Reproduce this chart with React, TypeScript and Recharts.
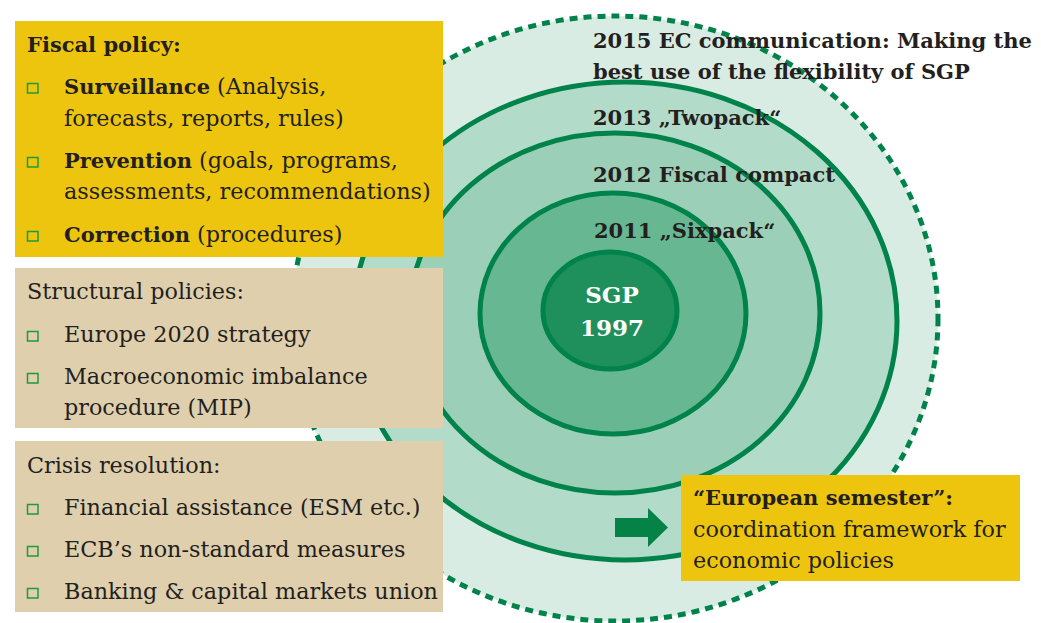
import { ScatterChart, Scatter, XAxis, YAxis } from "recharts";

const W = 1041;
const H = 623;

const YELLOW = "#edc50f";
const TAN = "#dfcfad";
const GREEN = "#00834a";
const INK = "#231f20";
const FONT = "'DejaVu Serif', serif";

// nested rings, outermost first (centre + radii in px units)
const RINGS = [
  { x: 615, y: 318.5, rx: 323, ry: 302.5, fill: "#d9ece3", dashed: true },
  { x: 625, y: 321, rx: 272, ry: 239, fill: "#b3dbc9", dashed: false },
  { x: 615, y: 313, rx: 205, ry: 180, fill: "#9bcfb7", dashed: false },
  { x: 613, y: 313.5, rx: 133, ry: 120.5, fill: "#68b793", dashed: false },
  { x: 610, y: 310.5, rx: 67, ry: 58.5, fill: "#1f8f5b", dashed: false },
];

// boxes: top-left corner + size
const BOXES = [
  { x: 15, y: 21, w: 428, h: 236, fill: YELLOW },
  { x: 15, y: 268, w: 428, h: 160, fill: TAN },
  { x: 15, y: 441, w: 428, h: 171, fill: TAN },
  { x: 681, y: 475, w: 339, h: 106, fill: YELLOW },
];

const ARROW = [{ x: 615, y: 527.5 }];

type Part = [string, boolean];

const LEFT_LINES: { x: number; y: number; bullet?: boolean; parts: Part[] }[] = [
  { x: 27, y: 52, parts: [["Fiscal policy:", true]] },
  { x: 64, y: 94, bullet: true, parts: [["Surveillance", true], [" (Analysis,", false]] },
  { x: 64, y: 126, parts: [["forecasts, reports, rules)", false]] },
  { x: 64, y: 168, bullet: true, parts: [["Prevention", true], [" (goals, programs,", false]] },
  { x: 64, y: 199, parts: [["assessments, recommendations)", false]] },
  { x: 64, y: 242, bullet: true, parts: [["Correction", true], [" (procedures)", false]] },
  { x: 27, y: 299, parts: [["Structural policies:", false]] },
  { x: 64, y: 342, bullet: true, parts: [["Europe 2020 strategy", false]] },
  { x: 64, y: 384, bullet: true, parts: [["Macroeconomic imbalance", false]] },
  { x: 64, y: 415, parts: [["procedure (MIP)", false]] },
  { x: 27, y: 473, parts: [["Crisis resolution:", false]] },
  { x: 64, y: 515, bullet: true, parts: [["Financial assistance (ESM etc.)", false]] },
  { x: 64, y: 557, bullet: true, parts: [["ECB\u2019s non-standard measures", false]] },
  { x: 64, y: 599, bullet: true, parts: [["Banking & capital markets union", false]] },
];

const RING_LABELS = [
  { x: 593, y: 48, text: "2015 EC communication: Making the" },
  { x: 593, y: 79, text: "best use of the flexibility of SGP" },
  { x: 593, y: 125, text: "2013 \u201ETwopack\u201C" },
  { x: 593, y: 182, text: "2012 Fiscal compact" },
  { x: 594, y: 238, text: "2011 \u201ESixpack\u201C" },
];

const CORE_LABELS = [
  { x: 612, y: 303, text: "SGP" },
  { x: 612, y: 336, text: "1997" },
];

const SEMESTER_LINES: { x: number; y: number; parts: Part[] }[] = [
  { x: 693, y: 505, parts: [["\u201CEuropean semester\u201D:", true]] },
  { x: 693, y: 537, parts: [["coordination framework for", false]] },
  { x: 693, y: 568, parts: [["economic policies", false]] },
];

const ringShape = (p: any) => {
  const d = p.payload;
  return (
    <ellipse
      cx={p.cx}
      cy={p.cy}
      rx={d.rx}
      ry={d.ry}
      fill={d.fill}
      stroke={GREEN}
      strokeWidth={5}
      strokeDasharray={d.dashed ? "8 6" : undefined}
    />
  );
};

const boxShape = (p: any) => {
  const d = p.payload;
  return <rect x={p.cx} y={p.cy} width={d.w} height={d.h} fill={d.fill} />;
};

const arrowShape = (p: any) => {
  const { cx, cy } = p;
  const pts = [
    [cx, cy - 9.5],
    [cx + 33, cy - 9.5],
    [cx + 33, cy - 19.5],
    [cx + 53, cy],
    [cx + 33, cy + 19.5],
    [cx + 33, cy + 9.5],
    [cx, cy + 9.5],
  ]
    .map((q) => q.join(","))
    .join(" ");
  return <polygon points={pts} fill="#058246" />;
};

const lineShape = (p: any) => {
  const d = p.payload;
  return (
    <g>
      {d.bullet && (
        <rect x={p.cx - 36.5} y={p.cy - 10.5} width={10.5} height={9.5} fill="none" stroke="#1f9a3e" strokeWidth={1.5} />
      )}
      <text x={p.cx} y={p.cy} fontFamily={FONT} fill={INK}>
        {d.parts.map((pt: Part, i: number) => (
          <tspan key={i} fontWeight={pt[1] ? "bold" : "normal"} fontSize={pt[1] ? 21 : 22.3}>
            {pt[0]}
          </tspan>
        ))}
      </text>
    </g>
  );
};

const ringLabelShape = (p: any) => (
  <text x={p.cx} y={p.cy} fontFamily={FONT} fontSize={21} fontWeight="bold" fill={INK}>
    {p.payload.text}
  </text>
);

const coreLabelShape = (p: any) => (
  <text x={p.cx} y={p.cy} fontFamily={FONT} fontSize={23} fontWeight="bold" fill="#ffffff" textAnchor="middle">
    {p.payload.text}
  </text>
);

export default function App() {
  return (
    <div style={{ position: "absolute", left: 0, top: 0, background: "#fff" }}>
      <ScatterChart width={W} height={H} margin={{ top: 0, right: 0, bottom: 0, left: 0 }}>
        <XAxis type="number" dataKey="x" domain={[0, W]} hide />
        <YAxis type="number" dataKey="y" domain={[0, H]} reversed hide />
        <Scatter data={RINGS} shape={ringShape} isAnimationActive={false} />
        <Scatter data={BOXES} shape={boxShape} isAnimationActive={false} />
        <Scatter data={ARROW} shape={arrowShape} isAnimationActive={false} />
        <Scatter data={LEFT_LINES} shape={lineShape} isAnimationActive={false} />
        <Scatter data={SEMESTER_LINES} shape={lineShape} isAnimationActive={false} />
        <Scatter data={RING_LABELS} shape={ringLabelShape} isAnimationActive={false} />
        <Scatter data={CORE_LABELS} shape={coreLabelShape} isAnimationActive={false} />
      </ScatterChart>
    </div>
  );
}
